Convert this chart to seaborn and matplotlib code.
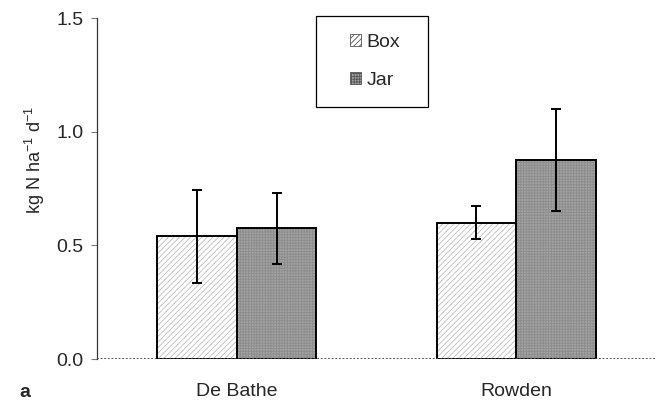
import pandas as pd
import matplotlib.pyplot as plt
import seaborn as sns
from matplotlib.patches import Rectangle, Patch

# Values
sites = ["De Bathe", "Rowden"]
methods = ["Box", "Jar"]
box_means = [0.54, 0.60]
jar_means = [0.575, 0.875]
box_err = [0.205, 0.073]
jar_err = [0.155, 0.225]

df = pd.DataFrame({
    "site": sites * 2,
    "method": ["Box"] * 2 + ["Jar"] * 2,
    "value": box_means + jar_means,
    "err": box_err + jar_err,
})

sns.set_style("white")
plt.rcParams["font.family"] = ["Liberation Sans", "DejaVu Sans"]
plt.rcParams["mathtext.fontset"] = "custom"
plt.rcParams["mathtext.rm"] = "Liberation Sans"
plt.rcParams["mathtext.it"] = "Liberation Sans"
plt.rcParams["hatch.linewidth"] = 0.6

fig = plt.figure(figsize=(6.56, 4.03), dpi=100)
ax = fig.add_axes([0.148, 0.109, 0.852, 0.846])

sns.barplot(data=df, x="site", y="value", hue="method", order=sites,
            hue_order=methods, width=0.57, errorbar=None, ax=ax,
            legend=False)

fills = {"Box": dict(fc="white", hatch="//////", hc="#bdbdbd"),
         "Jar": dict(fc="#a2a2a2", hatch="++++++", hc="#8c8c8c")}

# patches come out hue by hue, in site order
for i, p in enumerate(ax.patches[:4]):
    m = methods[i // 2]
    st = fills[m]
    p.set_facecolor(st["fc"])
    p.set_edgecolor(st["hc"])
    p.set_hatch(st["hatch"])
    p.set_linewidth(0)
    ax.add_patch(Rectangle(p.get_xy(), p.get_width(), p.get_height(),
                           fill=False, edgecolor="black", lw=1.4, zorder=3))
    row = df[(df.method == m) & (df.site == sites[i % 2])].iloc[0]
    ax.errorbar(p.get_x() + p.get_width() / 2, row.value, yerr=row.err,
                fmt="none", ecolor="black", elinewidth=1.4, capsize=3.3,
                capthick=1.4, zorder=4)

ax.set_ylim(0, 1.5)
ax.set_yticks([0.0, 0.5, 1.0, 1.5])
ax.set_yticklabels(["0.0", "0.5", "1.0", "1.5"], fontsize=14)
ax.set_xlim(-0.5, 1.5)
ax.set_xlabel("")
ax.set_ylabel("kg N ha$^{\\mathrm{-1}}$ d$^{\\mathrm{-1}}$", fontsize=13)
ax.yaxis.set_label_coords(-0.09, 0.584)
ax.tick_params(axis="x", length=0, labelsize=14, pad=17)
ax.tick_params(axis="y", left=True, length=4, width=0.8, color="#777777", pad=6)

sns.despine(ax=ax, top=True, right=True, bottom=True)
ax.spines["left"].set_color("#333333")
ax.spines["left"].set_linewidth(0.9)
ax.axhline(0, color="#444444", lw=1.3, ls=(0, (1, 1)), zorder=5)

# legend with its own square frame
ax.add_patch(Rectangle((0.392, 0.739), 0.2, 0.267, transform=ax.transAxes,
                       fill=False, edgecolor="black", lw=0.9, clip_on=False,
                       zorder=6))
handles = [Patch(facecolor=fills[m]["fc"], edgecolor="#555555",
                 hatch=fills[m]["hatch"], lw=0.6) for m in methods]
ax.legend(handles, methods, loc="center", bbox_to_anchor=(0.497, 0.8725),
          frameon=False, fontsize=14, handlelength=0.57, handleheight=0.57,
          handletextpad=0.3, labelspacing=1.1)

fig.text(0.03, 0.015, "a", fontsize=14, fontweight="bold")

fig.savefig("out.png", dpi=100)
